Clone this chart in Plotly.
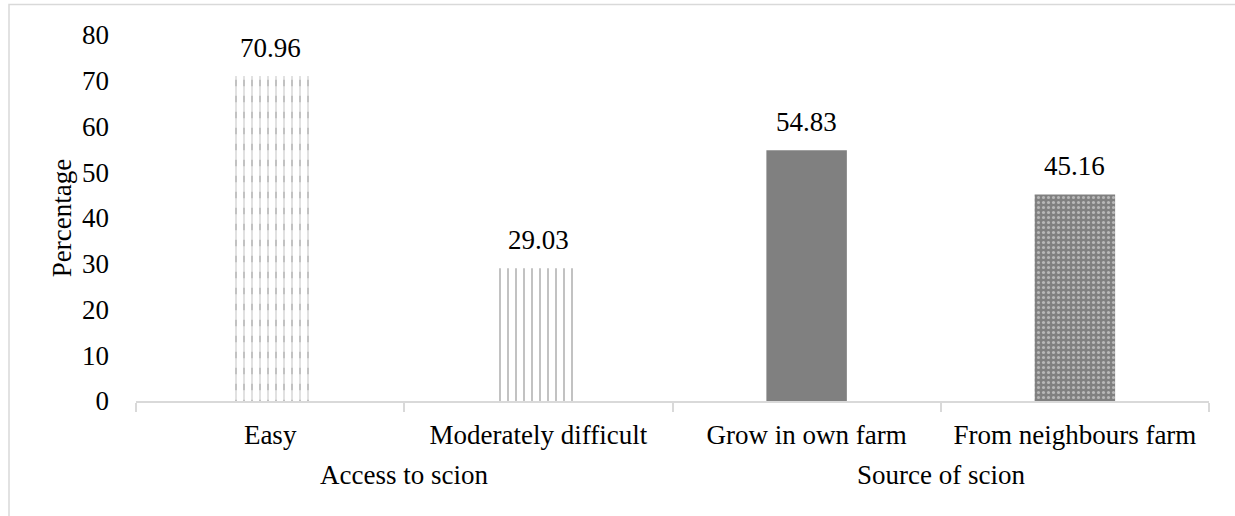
import plotly.graph_objects as go

# Survey results on scion access and scion source
categories = ["Easy", "Moderately difficult", "Grow in own farm", "From neighbours farm"]
percentages = [70.96, 29.03, 54.83, 45.16]
groups = ["Access to scion", "Source of scion"]
group_centres = [0.5, 2.5]
y_ticks = [0, 10, 20, 30, 40, 50, 60, 70, 80]

FONT = "Liberation Serif, Times New Roman, serif"
FS = 27
GRID = "#d9d9d9"
GREY = "#808080"
LINE_GREY = "#858585"

W, H = 1235, 516
L, R, T, B = 136, 26, 35, 115
pw, ph = W - L - R, H - T - B

fig = go.Figure()

# Base bars: one fill style per category
fig.add_trace(go.Bar(
    x=[categories[0]], y=[percentages[0]],
    marker=dict(color="rgba(0,0,0,0)", line=dict(width=0),
                pattern=dict(shape="|", fgcolor=LINE_GREY, bgcolor="white",
                             size=8, solidity=0.25)),
    showlegend=False, hoverinfo="skip",
))
# white horizontal bands cut the vertical lines of the first bar into dashes
fig.add_trace(go.Bar(
    x=[categories[0]], y=[percentages[0]],
    marker=dict(color="rgba(0,0,0,0)", line=dict(width=0),
                pattern=dict(shape="-", fgcolor="white", bgcolor="rgba(0,0,0,0)",
                             size=16, solidity=0.6)),
    showlegend=False, hoverinfo="skip",
))
fig.add_trace(go.Bar(
    x=[categories[1]], y=[percentages[1]],
    marker=dict(color="rgba(0,0,0,0)", line=dict(width=0),
                pattern=dict(shape="|", fgcolor=LINE_GREY, bgcolor="white",
                             size=8, solidity=0.25)),
    showlegend=False,
))
fig.add_trace(go.Bar(
    x=[categories[2]], y=[percentages[2]],
    marker=dict(color=GREY, line=dict(width=0)),
    showlegend=False,
))
fig.add_trace(go.Bar(
    x=[categories[3]], y=[percentages[3]],
    marker=dict(color=GREY, line=dict(width=0),
                pattern=dict(shape=".", fgcolor="#f0f0f0", bgcolor=GREY,
                             size=5, solidity=0.3)),
    showlegend=False,
))

annotations = []
# value labels above each bar
for c, v in zip(categories, percentages):
    annotations.append(dict(
        x=c, y=v, xref="x", yref="y", text=f"{v:.2f}", showarrow=False,
        yanchor="bottom", yshift=11, font=dict(family=FONT, size=FS, color="black"),
    ))
# group labels under the category labels
for g, gx in zip(groups, group_centres):
    annotations.append(dict(
        x=gx, y=(401 - 475) / ph, xref="x", yref="paper", text=g, showarrow=False,
        yanchor="middle", font=dict(family=FONT, size=FS, color="black"),
    ))

# light frame around the chart
shapes = [dict(
    type="rect", xref="paper", yref="paper",
    x0=(9 - L) / pw, x1=(W + 10 - L) / pw,
    y0=(T + ph - (H + 10)) / ph, y1=(T + ph - 4.5) / ph,
    line=dict(color=GRID, width=1.5), fillcolor="rgba(0,0,0,0)", layer="below",
)]

fig.update_layout(
    width=W, height=H,
    margin=dict(l=L, r=R, t=T, b=B),
    paper_bgcolor="white", plot_bgcolor="white",
    barmode="overlay", bargap=0.7,
    font=dict(family=FONT, size=FS, color="black"),
    annotations=annotations, shapes=shapes,
    xaxis=dict(
        type="category", categoryorder="array", categoryarray=categories,
        showline=True, linecolor=GRID, linewidth=1.5,
        ticks="outside", tickson="boundaries", ticklen=9, tickcolor=GRID, tickwidth=1.5,
        ticklabelstandoff=9,
        tickfont=dict(family=FONT, size=FS, color="black"),
        showgrid=False, zeroline=False,
    ),
    yaxis=dict(
        range=[0, 80], tickvals=y_ticks, showgrid=False, zeroline=False,
        showline=False, ticks="", ticklabelstandoff=26,
        tickfont=dict(family=FONT, size=FS, color="black"),
        title=dict(text="Percentage", font=dict(family=FONT, size=FS, color="black"),
                   standoff=2),
    ),
)

fig.write_html("out.html")
